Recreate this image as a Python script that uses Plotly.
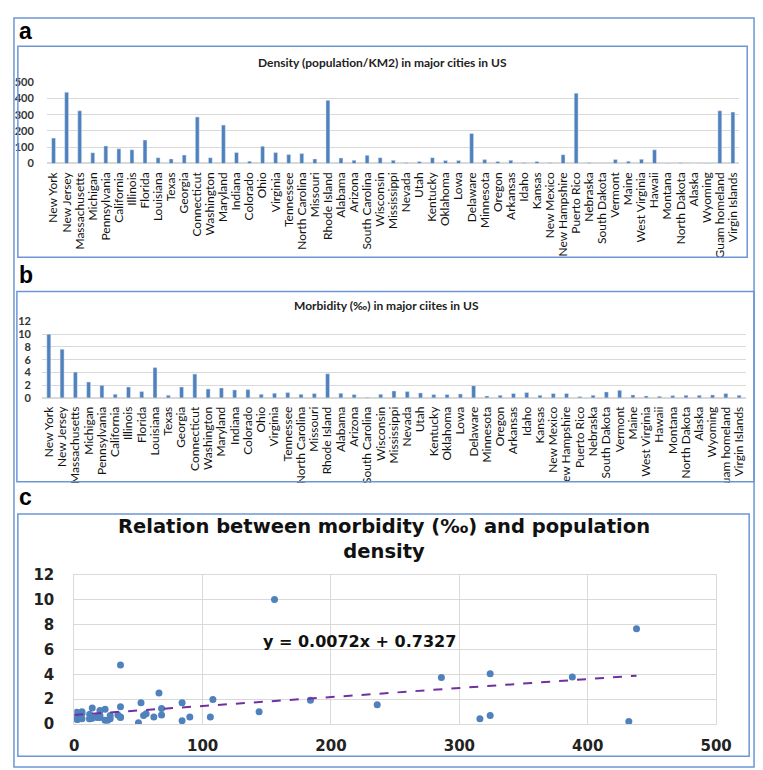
import plotly.graph_objects as go

W, H = 763, 770

states = ["New York", "New Jersey", "Massachusetts", "Michigan", "Pennsylvania", "California",
          "Illinois", "Florida", "Louisiana", "Texas", "Georgia", "Connecticut", "Washington",
          "Maryland", "Indiana", "Colorado", "Ohio", "Virginia", "Tennessee", "North Carolina",
          "Missouri", "Rhode Island", "Alabama", "Arizona", "South Carolina", "Wisconsin",
          "Mississippi", "Nevada", "Utah", "Kentucky", "Oklahoma", "Lowa", "Delaware",
          "Minnesota", "Oregon", "Arkansas", "Idaho", "Kansas", "New Mexico", "New Hampshire",
          "Puerto Rico", "Nebraska", "South Dakota", "Vermont", "Maine", "West Virginia",
          "Hawaii", "Montana", "North Dakota", "Alaska", "Wyoming", "Guam homeland",
          "Virgin Islands"]

density = [156, 438, 324, 66, 108, 90, 84, 144, 36, 28, 52, 286, 36, 236, 68, 14, 106, 68, 56,
           62, 28, 388, 34, 20, 50, 36, 20, 6, 12, 36, 18, 18, 184, 24, 12, 20, 6, 12, 4, 54,
           432, 6, 2, 24, 14, 26, 84, 2.5, 4, 0.5, 2.3, 324, 316]

morbidity = [10.0, 7.65, 4.05, 2.5, 1.97, 0.57, 1.71, 0.99, 4.75, 0.42, 1.71, 3.74, 1.40, 1.56,
             1.25, 1.30, 0.57, 0.73, 0.83, 0.57, 0.68, 3.78, 0.73, 0.52, 0.10, 0.57, 1.09, 0.99,
             0.78, 0.52, 0.52, 0.62, 1.92, 0.31, 0.42, 0.68, 0.83, 0.42, 0.68, 0.68, 0.21, 0.42,
             0.94, 1.19, 0.47, 0.31, 0.26, 0.36, 0.42, 0.42, 0.47, 0.68, 0.42]

trend_slope = 0.0072
trend_intercept = 0.7327
trend_label = "y = 0.0072x + 0.7327"

title_a = "Density (population/KM2) in major cities in US"
title_b = "Morbidity (‰) in major ciites in US"
title_c = "Relation between morbidity (‰) and population<br>density"

BAR = "#4F81BD"
GRID = "#D9D9D9"
BOX = "#6E96D6"
CAL = "Lato"
VER = "DejaVu Sans"


def px(x):
    return x / W


def py(y):
    return 1 - y / H


fig = go.Figure()

fig.add_trace(go.Bar(x=states, y=density, marker_color=BAR, xaxis="x", yaxis="y",
                     showlegend=False))
fig.add_trace(go.Bar(x=states, y=morbidity, marker_color=BAR, xaxis="x2", yaxis="y2",
                     showlegend=False))
fig.add_trace(go.Scatter(x=density, y=morbidity, mode="markers", xaxis="x3", yaxis="y3",
                         marker=dict(color=BAR, size=7), showlegend=False))
tx = [0, max(density)]
fig.add_trace(go.Scatter(x=tx, y=[trend_slope * v + trend_intercept for v in tx], mode="lines",
                         xaxis="x3", yaxis="y3",
                         line=dict(color="#7030A0", dash="dash", width=2), showlegend=False))

cat_font = dict(family=CAL, size=12, color="#111")
ytick_font = dict(family=CAL, size=11, color="#333", weight="bold")

fig.update_layout(
    width=W, height=H, margin=dict(l=0, r=0, t=0, b=0),
    paper_bgcolor="white", plot_bgcolor="white", bargap=0.7,
    xaxis=dict(domain=[px(35), px(747)], type="category", range=[-0.5, 52.5],
               tickmode="array", tickvals=states, ticktext=states,
               tickangle=-90, tickfont=cat_font, showgrid=False, showline=False,
               ticks="outside", ticklen=3, tickcolor="rgba(0,0,0,0)", anchor="y"),
    yaxis=dict(domain=[py(150), py(66.7)], range=[0, 500], dtick=100, gridcolor=GRID,
               zeroline=True, zerolinecolor=GRID, tickfont=ytick_font, anchor="x",
               ticks="outside", ticklen=10, tickcolor="rgba(0,0,0,0)"),
    xaxis2=dict(domain=[px(30), px(753.5)], type="category", range=[-0.5, 52.5],
                tickmode="array", tickvals=states, ticktext=states,
                tickangle=-90, tickfont=cat_font, showgrid=False, showline=False,
                ticks="outside", ticklen=3, tickcolor="rgba(0,0,0,0)", anchor="y2"),
    yaxis2=dict(domain=[py(390), py(311.7)], range=[0, 12], dtick=2, gridcolor=GRID,
                zeroline=True, zerolinecolor=GRID, tickfont=ytick_font, anchor="x2",
                ticks="outside", ticklen=8, tickcolor="rgba(0,0,0,0)"),
    xaxis3=dict(domain=[px(63), px(723)], range=[0, 500], dtick=100, gridcolor=GRID,
                showline=True, linecolor=GRID, mirror=True, zeroline=False,
                tickfont=dict(family=VER, size=15, color="#222", weight="bold"),
                ticks="outside", ticklen=8, tickcolor="rgba(0,0,0,0)", anchor="y3"),
    yaxis3=dict(domain=[py(724), py(571)], range=[0, 12], dtick=2, gridcolor=GRID,
                showline=True, linecolor=GRID, mirror=True, zeroline=False,
                tickfont=dict(family=VER, size=15, color="#222", weight="bold"),
                ticks="outside", ticklen=16, tickcolor="rgba(0,0,0,0)", anchor="x3"),
)

shapes = [dict(type="rect", xref="paper", yref="paper", x0=px(2), x1=px(761),
               y0=py(507), y1=py(477), line=dict(width=0), fillcolor="white", layer="above")]
for (x0, y0, x1, y1) in [(1, 1, 762, 768), (5, 30, 755, 246), (4, 281, 762, 476),
                         (5, 509, 757, 757)]:
    shapes.append(dict(type="rect", xref="paper", yref="paper", x0=px(x0), x1=px(x1),
                       y0=py(y1), y1=py(y0), line=dict(color=BOX, width=1.5), layer="above"))
fig.update_layout(shapes=shapes)

ann = []
for lbl, x, y in [("a", 4, 14), ("b", 4, 264), ("c", 4, 491)]:
    ann.append(dict(text=lbl, x=px(x), y=py(y), xref="paper", yref="paper", showarrow=False,
                    xanchor="left", yanchor="middle",
                    font=dict(family="Liberation Sans", size=23, color="black", weight="bold")))
ann.append(dict(text=title_a, x=px(380), y=py(46.5), xref="paper", yref="paper",
                showarrow=False, xanchor="center", yanchor="middle",
                font=dict(family=CAL, size=12, color="#222", weight="bold")))
ann.append(dict(text=title_b, x=px(384), y=py(295), xref="paper", yref="paper",
                showarrow=False, xanchor="center", yanchor="middle",
                font=dict(family=CAL, size=12, color="#222", weight="bold")))
ann.append(dict(text=title_c, x=px(381), y=py(535), xref="paper", yref="paper",
                showarrow=False, xanchor="center", yanchor="middle",
                font=dict(family=VER, size=19.5, color="#111", weight="bold")))
ann.append(dict(text=trend_label, x=222, y=6.67, xref="x3", yref="y3", showarrow=False,
                xanchor="center", yanchor="middle",
                font=dict(family=VER, size=16, color="#111", weight="bold")))
fig.update_layout(annotations=ann)

fig.write_html("out.html")
